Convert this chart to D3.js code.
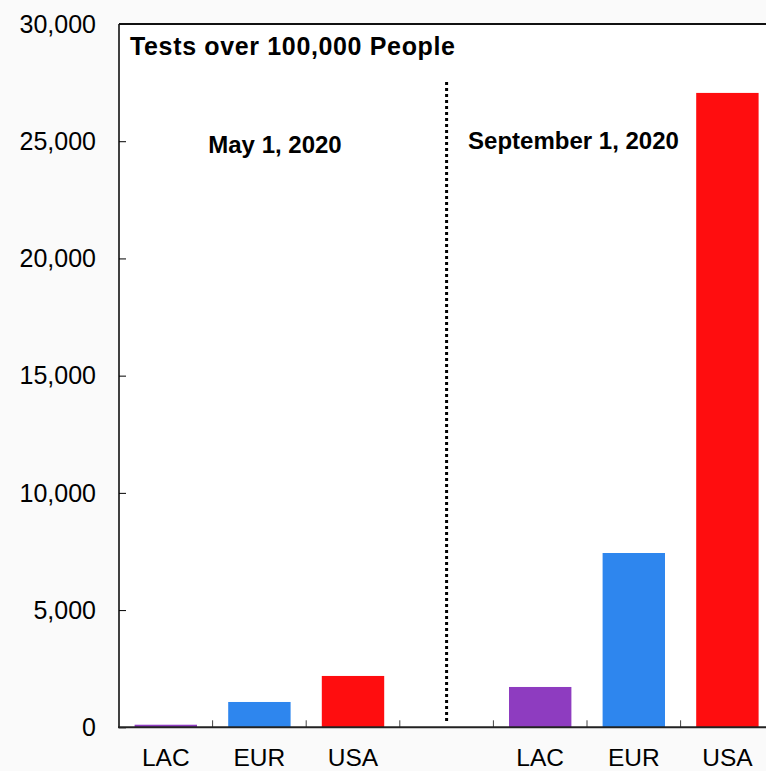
<!DOCTYPE html>
<html>
<head>
<meta charset="utf-8">
<script src="https://cdn.jsdelivr.net/npm/d3@7"></script>
<style>
  body { margin: 0; background: #fafafa; }
  svg { display: block; font-family: "Liberation Sans", Arial, sans-serif; }
</style>
</head>
<body>
<div id="vis-container"></div>
<script>
// data
var slotLabels = ["LAC", "EUR", "USA", "", "LAC", "EUR", "USA"];
var barColors = ["#8e3cc0", "#2e86ee", "#ff0d0f"];
var may2020 = [110, 1080, 2190];
var sep2020 = [1720, 7435, 27060];
var yTicks = [0, 5000, 10000, 15000, 20000, 25000, 30000];
var chartTitle = "Tests over 100,000 People";
var periodLabels = ["May 1, 2020", "September 1, 2020"];

var width = 766, height = 771;
var margin = {top: 24, left: 119, bottom: 43.7};
var plotHeight = height - margin.top - margin.bottom;
var step = 93.6;

function buildRows() {
      var rows = [];
      may2020.forEach(function(v, i) {
            rows.push({slot: i, value: v, color: barColors[i]});
      });
      sep2020.forEach(function(v, i) {
            rows.push({slot: i + 4, value: v, color: barColors[i]});
      });
      return rows;
}

function drawChart() {
      var rows = buildRows();

      var svg = d3.select("#vis-container").append("svg")
            .attr("width", width)
            .attr("height", height);

      var g = svg.append("g")
            .attr("transform", "translate(" + margin.left + "," + margin.top + ")");

      g.append("rect")
            .attr("width", width - margin.left)
            .attr("height", plotHeight)
            .attr("fill", "#fff");

      var x = d3.scaleBand()
            .domain(d3.range(slotLabels.length))
            .range([0, step * slotLabels.length])
            .paddingInner(1 / 3)
            .paddingOuter(1 / 6);

      var y = d3.scaleLinear()
            .domain([0, 30000])
            .range([plotHeight, 0]);

      // bars
      g.append("g")
            .selectAll("rect")
            .data(rows)
            .enter()
            .append("rect")
            .attr("x", d => x(d.slot))
            .attr("y", d => y(d.value))
            .attr("width", x.bandwidth())
            .attr("height", d => y(0) - y(d.value))
            .attr("fill", d => d.color);

      // y axis, ticks pointing inwards
      var yAxis = g.append("g")
            .call(d3.axisRight(y)
            .tickValues(yTicks)
            .tickSize(7)
            .tickFormat(d3.format(",")));
      yAxis.select(".domain").remove();
      yAxis.selectAll("text").remove();
      yAxis.selectAll("line").attr("stroke", "#000");

      g.append("g")
            .selectAll("text")
            .data(yTicks)
            .enter()
            .append("text")
            .attr("x", -23)
            .attr("y", d => y(d))
            .attr("dy", "0.35em")
            .attr("text-anchor", "end")
            .attr("font-size", 25)
            .attr("fill", "#000")
            .text(d => d3.format(",")(d));

      // small ticks between the categories
      g.append("g")
            .selectAll("line")
            .data(d3.range(1, slotLabels.length))
            .enter()
            .append("line")
            .attr("x1", d => d * x.step())
            .attr("x2", d => d * x.step())
            .attr("y1", plotHeight)
            .attr("y2", plotHeight - 7)
            .attr("stroke", "#444")
            .attr("stroke-width", 1);

      // category labels
      g.append("g")
            .selectAll("text")
            .data(slotLabels)
            .enter()
            .append("text")
            .attr("x", (d, i) => x(i) + x.bandwidth() / 2)
            .attr("y", plotHeight + 38.7)
            .attr("text-anchor", "middle")
            .attr("font-size", 24.5)
            .attr("fill", "#000")
            .text(d => d);

      // frame: left axis, top border, base line
      g.append("line")
            .attr("x1", 0).attr("x2", 0)
            .attr("y1", 0).attr("y2", plotHeight)
            .attr("stroke", "#000").attr("stroke-width", 1.5);
      g.append("line")
            .attr("x1", 0).attr("x2", width - margin.left)
            .attr("y1", 0).attr("y2", 0)
            .attr("stroke", "#111").attr("stroke-width", 2);
      g.append("line")
            .attr("x1", -1).attr("x2", width - margin.left)
            .attr("y1", plotHeight).attr("y2", plotHeight)
            .attr("stroke", "#222").attr("stroke-width", 2);

      // dotted divider between the two dates
      var midX = 3.5 * x.step();
      g.append("line")
            .attr("x1", midX).attr("x2", midX)
            .attr("y1", 58).attr("y2", plotHeight - 4)
            .attr("stroke", "#000")
            .attr("stroke-width", 3)
            .attr("stroke-dasharray", "3,3");

      // title and date labels
      g.append("text")
            .attr("x", 11)
            .attr("y", 30.7)
            .attr("font-size", 25)
            .attr("font-weight", "bold")
            .attr("textLength", 325)
            .text(chartTitle);

      g.append("text")
            .attr("x", 156)
            .attr("y", 128.7)
            .attr("text-anchor", "middle")
            .attr("font-size", 24)
            .attr("font-weight", "bold")
            .text(periodLabels[0]);

      g.append("text")
            .attr("x", 454.5)
            .attr("y", 125.3)
            .attr("text-anchor", "middle")
            .attr("font-size", 24)
            .attr("font-weight", "bold")
            .text(periodLabels[1]);
}

drawChart();
</script>
</body>
</html>
